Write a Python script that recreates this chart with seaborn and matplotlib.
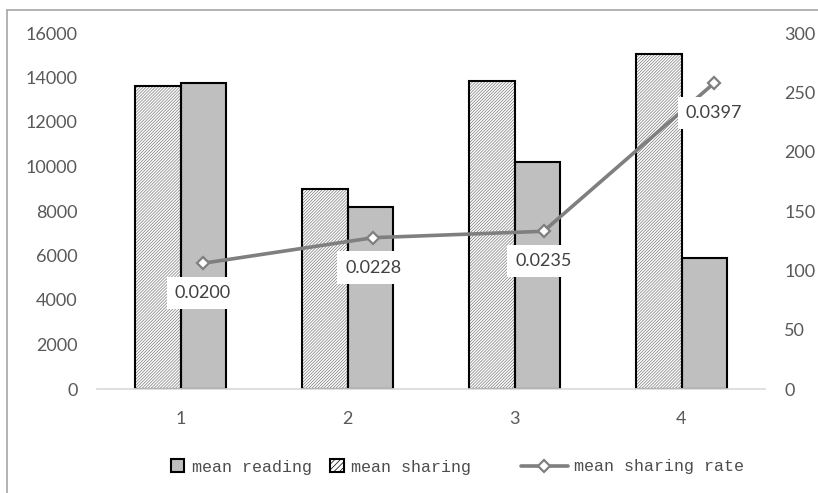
import matplotlib
matplotlib.use("Agg")
import matplotlib.pyplot as plt
from matplotlib.patches import Patch, Rectangle
from matplotlib.lines import Line2D
import seaborn as sns
import pandas as pd

# Groups and per-group means
categories = ["1", "2", "3", "4"]
mean_sharing = [13600, 9000, 13850, 15050]
mean_reading = [13750, 8200, 10200, 5900]
sharing_rate = [0.0200, 0.0228, 0.0235, 0.0397]
rate_labels = ["0.0200", "0.0228", "0.0235", "0.0397"]

left_ticks = [0, 2000, 4000, 6000, 8000, 10000, 12000, 14000, 16000]
right_ticks = [0, 50, 100, 150, 200, 250, 300]

sns.set_theme(style="white")
plt.rcParams["font.family"] = ["Lato", "DejaVu Sans"]
plt.rcParams["hatch.linewidth"] = 0.5

TICK_COLOR = "#595959"
GRAY_BAR = "#bfbfbf"
LINE_COLOR = "#7f7f7f"
HATCH_COLOR = "#7a7a7a"

df = pd.DataFrame({
    "group": categories * 2,
    "value": mean_sharing + mean_reading,
    "series": ["mean sharing"] * 4 + ["mean reading"] * 4,
})

fig = plt.figure(figsize=(8.18, 4.93), dpi=100)
pos = [97 / 818, 104 / 493, 668 / 818, 356 / 493]
ax = fig.add_axes(pos)

sns.barplot(data=df, x="group", y="value", hue="series",
            hue_order=["mean sharing", "mean reading"],
            palette=["white", GRAY_BAR], edgecolor="black", linewidth=1.5,
            width=0.55, gap=0, legend=False, saturation=1, ax=ax)
# Gray hatching inside the sharing bars, with a black outline on top
for bar in ax.containers[0]:
    bar.set_hatch("/" * 11)
    bar.set_edgecolor(HATCH_COLOR)
    bar.set_linewidth(0)
    ax.add_patch(Rectangle((bar.get_x(), bar.get_y()), bar.get_width(), bar.get_height(),
                           fill=False, edgecolor="black", linewidth=1.5, zorder=bar.get_zorder() + 0.1))

ax.set_xlim(-0.5, 3.5)
ax.set_ylim(0, 16000)
ax.set_yticks(left_ticks)
ax.set_yticklabels([str(t) for t in left_ticks])
ax.set_xlabel("")
ax.set_ylabel("")
ax.tick_params(axis="y", length=0, pad=14, labelsize=13, labelcolor=TICK_COLOR)
ax.tick_params(axis="x", length=0, pad=16, labelsize=13, labelcolor=TICK_COLOR)
for side in ["left", "right", "top"]:
    ax.spines[side].set_visible(False)
ax.spines["bottom"].set_color("#d9d9d9")
ax.spines["bottom"].set_linewidth(1.2)

# Secondary value axis on the right
ax2 = ax.twinx()
ax2.set_ylim(0, 300)
ax2.set_yticks(right_ticks)
ax2.set_yticklabels([str(t) for t in right_ticks])
ax2.tick_params(axis="y", length=0, pad=14, labelsize=13, labelcolor=TICK_COLOR)
for s in ax2.spines.values():
    s.set_visible(False)
ax2.patch.set_visible(False)

# Sharing rate line on its own hidden scale
ax3 = fig.add_axes(pos)
ax3.patch.set_visible(False)
idx = list(range(len(categories)))
sns.lineplot(x=idx, y=sharing_rate, ax=ax3, color=LINE_COLOR, linewidth=2.6,
             marker="D", markersize=6, markerfacecolor="white",
             markeredgecolor=LINE_COLOR, markeredgewidth=1.6)
ax3.set_xlim(-0.622, 3.300)
ax3.set_ylim(0.00624, 0.0452)
ax3.axis("off")
for xi, yi, lab in zip(idx, sharing_rate, rate_labels):
    ax3.annotate(lab, (xi, yi), xytext=(0, -21.5), textcoords="offset points",
                 ha="center", va="center", fontsize=13, color="#404040",
                 bbox=dict(boxstyle="square,pad=0.45", fc="white", ec="none"))

# Legends
leg_font = {"family": "Liberation Mono", "size": 12}
bar_handles = [
    Patch(facecolor=GRAY_BAR, edgecolor="black", linewidth=1.5, label="mean reading"),
    Patch(facecolor="white", edgecolor="black", linewidth=1.5, hatch="//////", label="mean sharing"),
]
leg1 = fig.legend(handles=bar_handles, loc="center left", ncol=2,
                  bbox_to_anchor=(171 / 818, (493 - 467) / 493), frameon=False,
                  prop=leg_font, handlelength=0.8, handleheight=0.8,
                  handletextpad=0.45, columnspacing=1.1, borderpad=0, borderaxespad=0)
line_handle = [Line2D([0], [0], color=LINE_COLOR, linewidth=2.6, marker="D",
                      markersize=6, markerfacecolor="white",
                      markeredgecolor=LINE_COLOR, markeredgewidth=1.6,
                      label="mean sharing rate")]
leg2 = fig.legend(handles=line_handle, loc="center left",
                  bbox_to_anchor=(521 / 818, (493 - 467) / 493), frameon=False,
                  prop=leg_font, handlelength=2.8, handletextpad=0.35,
                  borderpad=0, borderaxespad=0)
for leg in (leg1, leg2):
    for t in leg.get_texts():
        t.set_color("#4d4d4d")

# Chart frame
fx, fy = 7 / 818, (493 - 10) / 493
fig.add_artist(Line2D([fx, 1.0], [fy, fy], color="#a6a6a6", linewidth=1.2,
                      transform=fig.transFigure))
fig.add_artist(Line2D([fx, fx], [0.0, fy], color="#a6a6a6", linewidth=1.2,
                      transform=fig.transFigure))

fig.savefig("out.png", dpi=100)
